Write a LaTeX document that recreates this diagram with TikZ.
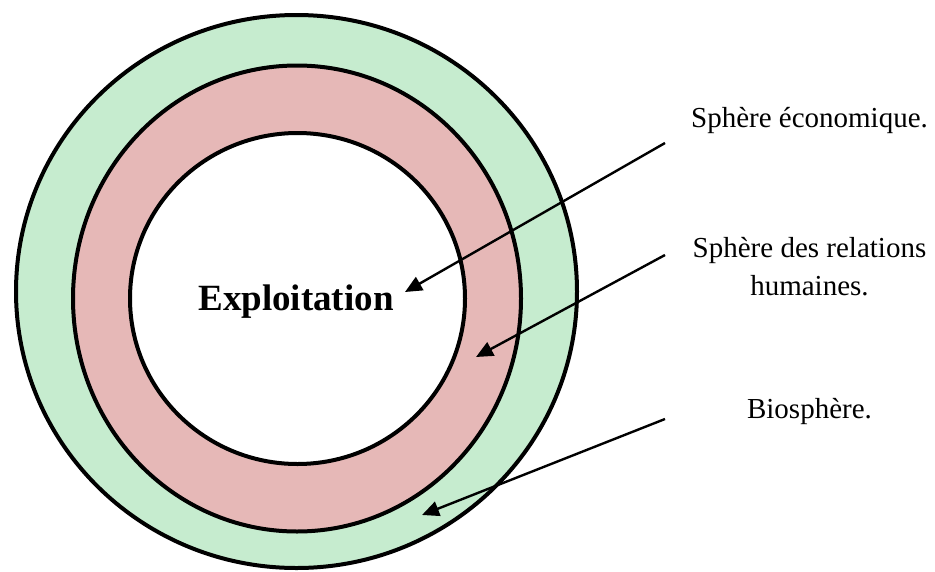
\documentclass[tikz,border=0pt]{standalone}
\usepackage{fontspec}
\setmainfont{Liberation Serif}
\usetikzlibrary{arrows.meta}
\definecolor{biogreen}{RGB}{198,236,207}
\definecolor{humanpink}{RGB}{230,184,183}
\tikzset{
  ring/.style={draw=black, line width=4pt},
  pointer/.style={draw=black, line width=2.4pt, -{Triangle[length=17pt,width=15pt]}},
  label/.style={font=\fontsize{29}{38}\selectfont, anchor=base, align=center, inner sep=0pt},
  title/.style={font=\fontsize{37}{44}\selectfont\bfseries, anchor=base, inner sep=0pt}
}
\begin{document}
\begin{tikzpicture}[x=1pt,y=-1pt]
\useasboundingbox (0,0) rectangle (935,571);
% rings
\path[ring, fill=biogreen] (296.5,291.5) ellipse [x radius=280.5, y radius=276.5];
\path[ring, fill=humanpink] (297,298.5) ellipse [x radius=224, y radius=233];
\path[ring, fill=white] (297.5,298.5) ellipse [x radius=167.5, y radius=165.5];
% texts
\node[title] (expl) at (296,310) {Exploitation};
\node[label] (eco) at (809.5,127) {Sphère économique.};
\node[label] (hum) at (809.5,295) {Sphère des relations\\humaines.};
\node[label] (bio) at (809.5,418) {Biosphère.};
% connector coordinates
\coordinate (s1) at (665,143);
\coordinate (t1) at (405,292);
\coordinate (s2) at (665,255);
\coordinate (t2) at (476,357);
\coordinate (s3) at (665,419);
\coordinate (t3) at (422,515);
\draw[pointer] (s1) -- (t1);
\draw[pointer] (s2) -- (t2);
\draw[pointer] (s3) -- (t3);
\end{tikzpicture}
\end{document}
